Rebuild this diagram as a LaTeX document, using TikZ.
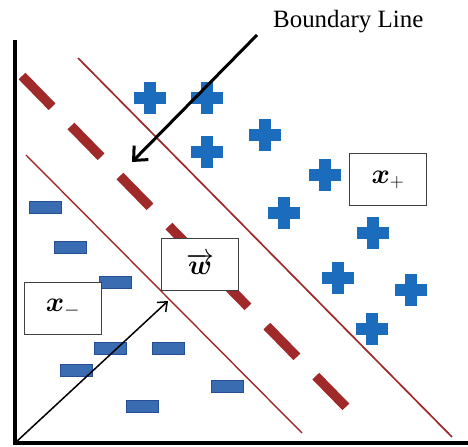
\RequirePackage{fix-cm}
\documentclass[tikz,border=0pt]{standalone}
\usepackage{fontspec}
\setmainfont{Liberation Serif}
\usepackage{bm}
\usetikzlibrary{arrows.meta}
\definecolor{bleuplus}{RGB}{28,108,190}
\definecolor{bleumoins}{RGB}{58,108,178}
\definecolor{bordmoins}{RGB}{38,78,148}
\definecolor{rougemarge}{RGB}{160,42,42}
\begin{document}
\begin{tikzpicture}[x=1bp,y=-1bp]
% Styles
\tikzstyle{axe}=[line width=3.5bp]
\tikzstyle{frontiere}=[rougemarge,line width=9.5bp,dash pattern=on 43bp off 27bp]
\tikzstyle{marge}=[rougemarge,line width=1.7bp]
\tikzstyle{fleche}=[-{Straight Barb[length=11bp,width=20bp]},line width=3bp]
\tikzstyle{vecteur}=[-{Straight Barb[length=8bp,width=13bp]},line width=1.5bp]
\tikzstyle{boite}=[draw=black!75,line width=1bp,fill=white,minimum width=77bp,minimum height=52bp,inner sep=0pt,font=\fontsize{28}{32}\selectfont]
\tikzstyle{moins}=[draw=bordmoins,line width=1bp,fill=bleumoins,minimum width=32bp,minimum height=12bp,inner sep=0pt]
\tikzstyle{plus}=[minimum size=32bp,inner sep=0pt,path picture={
  \fill[bleuplus] ([xshift=-16bp,yshift=-6bp]path picture bounding box.center) rectangle ++(32bp,12bp);
  \fill[bleuplus] ([xshift=-6bp,yshift=-16bp]path picture bounding box.center) rectangle ++(12bp,32bp);}]
% Dimensions
\useasboundingbox (0,0) rectangle (468,447);
% Axes
\coordinate (O) at (15,443);
\coordinate (Yh) at (15,40);
\coordinate (Xd) at (468,443);
\draw[axe] (Yh) |- (Xd);
% Droites
\coordinate (Fa) at (22,76);
\coordinate (Fb) at (347,408);
\coordinate (Ha) at (78,58);
\coordinate (Hb) at (452,437);
\coordinate (Ba) at (26,155);
\coordinate (Bb) at (302,433);
\draw[frontiere] (Fa)--(Fb);
\draw[marge] (Ha)--(Hb);
\draw[marge,line width=1.4bp] (Ba)--(Bb);
% Points
\foreach \x/\y [count=\i] in {150/98,207/98,265/135,207/152,325/175,284/213,373/233,338/278,411/290,372/329}
  \node[plus] (p\i) at (\x,\y) {};
\foreach \x/\y [count=\i] in {45/208,70/247,115/282,110/348,168/348,76/370,227/386,142/406}
  \node[moins] (m\i) at (\x,\y) {};
% Noeuds
\node[boite] (Xp) at (388,180) {$\bm{x}_{+}$};
\node[boite] (W) at (200,264) {$\overrightarrow{\bm{w}}$};
\node[boite] (Xm) at (63,308) {$\bm{x}_{-}$};
\node[anchor=base west,inner sep=0pt,font=\fontsize{25}{30}\selectfont] (Bl) at (273,28) {Boundary Line};
% Arcs
\coordinate (Bd) at (257,35);
\coordinate (Bt) at (132,162);
\coordinate (Wt) at (168,301);
\draw[fleche] (Bd)--(Bt);
\draw[vecteur] (O)--(Wt);
\end{tikzpicture}
\end{document}
